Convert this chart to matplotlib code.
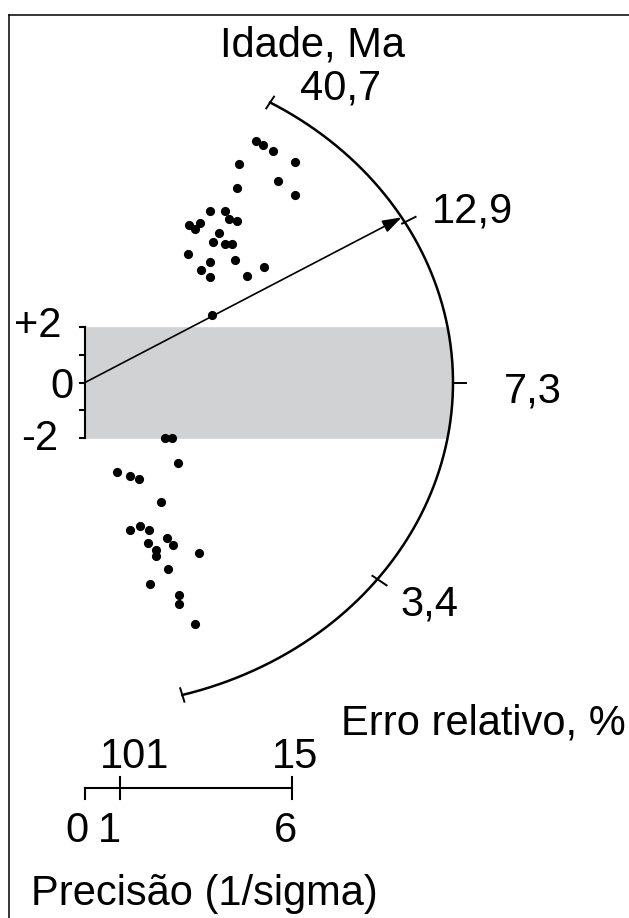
import numpy as np
import matplotlib
matplotlib.use('Agg')
import matplotlib.pyplot as plt
from matplotlib.lines import Line2D

plt.rcParams['font.family'] = ['Liberation Sans', 'DejaVu Sans']

# precision (1/sigma) and standardised estimate of each grain
prec_up = [4.94, 5.14, 5.45, 6.09, 4.47, 5.60, 4.41, 6.08, 3.61, 4.05, 4.18, 4.40, 3.02,
           3.33, 3.19, 3.89, 3.70, 4.04, 4.26, 2.97, 3.62, 4.33, 3.37, 3.62, 4.70, 5.18, 3.67]
z_up = [8.65, 8.50, 8.30, 7.90, 7.82, 7.23, 6.98, 6.71, 6.14, 6.16, 5.87, 5.78, 5.63,
        5.71, 5.49, 5.37, 5.03, 4.95, 4.95, 4.60, 4.33, 4.39, 4.02, 3.77, 3.81, 4.13, 2.41]
prec_low = [2.32, 2.51, 2.68, 0.94, 1.30, 1.57, 2.21, 1.59, 1.29, 1.85, 2.38, 1.82, 2.56,
            2.06, 2.06, 3.30, 2.41, 1.89, 2.72, 2.72, 3.18]
z_low = [-2.00, -2.00, -2.90, -3.20, -3.35, -3.46, -4.29, -5.13, -5.29, -5.29, -5.56, -5.76,
         -5.81, -6.00, -6.21, -6.12, -6.69, -7.21, -7.61, -7.94, -8.67]

age_ticks = [40.7, 12.9, 7.3, 3.4]
age_labels = ['40,7', '12,9', '7,3', '3,4']
ref_age = 7.3
central_age = 13.2
arc_age_min = 0.19
arc_age_max = 40.7

z_ticks = [-2, -1, 0, 1, 2]
z_labels = {2: '+2', 0: '0', -2: '-2'}

prec_ticks = [0, 1, 6]
prec_labels = ['0', '1', '6']
err_labels = {1: '101', 6: '15'}

# pixel scale of the two axes
sx, sy = 34.55, 27.9
ox, oy = 85, 382.5
W, H = 629, 918
a_arc, b_arc = 368 / sx, 324 / sy
c_slope = 1.09

fig = plt.figure(figsize=(W / 100, H / 100), dpi=100)
ax = fig.add_axes([0, 0, 1, 1])
ax.set_xlim(-ox / sx, (W - ox) / sx)
ax.set_ylim(-(H - oy) / sy, oy / sy)
ax.axis('off')


def arc_pt(age):
    k = c_slope * np.log(np.asarray(age) / ref_age)
    x = 1 / np.sqrt(1 / a_arc**2 + k**2 / b_arc**2)
    return x, k * x


def radial_tick(age, r_in, r_out):
    x, y = arc_pt(age)
    ux, uy = x * sx, y * sy
    n = np.hypot(ux, uy)
    ux, uy = ux / n, uy / n
    ax.plot([x - r_in * ux / sx, x + r_out * ux / sx],
            [y - r_in * uy / sy, y + r_out * uy / sy], color='k', lw=1.4,
            solid_capstyle='butt')


# grey band +-2
zz = np.linspace(-2, 2, 100)
ax.fill_betweenx(zz, 0, a_arc * np.sqrt(1 - (zz / b_arc)**2), color='#d1d2d4', lw=0, zorder=0)

# arc
ages = np.exp(np.linspace(np.log(arc_age_min), np.log(arc_age_max), 400))
ax_, ay_ = arc_pt(ages)
ax.plot(ax_, ay_, color='k', lw=1.8)
radial_tick(arc_age_max, 8, 8)
radial_tick(arc_age_min, 8, 8)
radial_tick(12.9, 4, 13)
radial_tick(7.3, 0, 14)
radial_tick(3.4, 7, 12)

offsets = {40.7: (30, 3), 12.9: (27, 0), 7.3: (51, -20), 3.4: (23, -36)}
for age, lab in zip(age_ticks, age_labels):
    ax.annotate(lab, xy=arc_pt(age), xytext=offsets[age], textcoords='offset pixels',
                ha='left', va='baseline', fontsize=30)

# arrow to central age
ax.annotate('', xy=arc_pt(central_age), xytext=(0, 0),
            arrowprops=dict(arrowstyle='-|>,head_length=0.9,head_width=0.3',
                            mutation_scale=13, lw=1.2, color='k', shrinkA=0, shrinkB=0))

# data points
ax.plot(prec_up, z_up, 'o', color='k', ms=6.6, mec='none')
ax.plot(prec_low, z_low, 'o', color='k', ms=6.6, mec='none')

# z axis
tl = 5 / sx
ax.plot([0, 0], [-2, 2], color='k', lw=1.5)
for zt in z_ticks:
    ax.plot([-tl, 0], [zt, zt], color='k', lw=1.5)
zlab_off = {2: (-23, -10), 0: (-11, -15), -2: (-27, -12)}
for zt, lab in z_labels.items():
    ax.annotate(lab, xy=(0, zt), xytext=zlab_off[zt], textcoords='offset pixels',
                ha='right', va='baseline', fontsize=30)

# precision scale bar
bar_z = (oy - 788) / sy
bl = 11 / sy
ax.plot([prec_ticks[0], prec_ticks[-1]], [bar_z, bar_z], color='k', lw=1.5)
for p in prec_ticks:
    top = bar_z if p == 0 else bar_z + bl
    ax.plot([p, p], [top, bar_z - bl], color='k', lw=1.5)
low_off = {0: -8, 1: -10.5, 6: -6.7}
for p, lab in zip(prec_ticks, prec_labels):
    ax.annotate(lab, xy=(p, bar_z), xytext=(low_off[p], -54), textcoords='offset pixels',
                ha='center', va='baseline', fontsize=30)
up_off = {1: 15.5, 6: 2.7}
for p, lab in err_labels.items():
    ax.annotate(lab, xy=(p, bar_z), xytext=(up_off[p], 20), textcoords='offset pixels',
                ha='center', va='baseline', fontsize=30)

# titles
fig.text(312 / W, 1 - 57 / H, 'Idade, Ma', ha='center', va='baseline', fontsize=30)
fig.text(341 / W, 1 - 735 / H, 'Erro relativo, %', ha='left', va='baseline', fontsize=30)
fig.text(31 / W, 1 - 905 / H, 'Precisão (1/sigma)', ha='left', va='baseline', fontsize=30)

# frame (cut at right and bottom)
fig.add_artist(Line2D([9 / W, 9 / W], [1 - 15 / H, 0], color='k', lw=1.1, transform=fig.transFigure))
fig.add_artist(Line2D([9 / W, 1], [1 - 15 / H, 1 - 15 / H], color='k', lw=1.1, transform=fig.transFigure))

fig.savefig('out.png', dpi=100)
